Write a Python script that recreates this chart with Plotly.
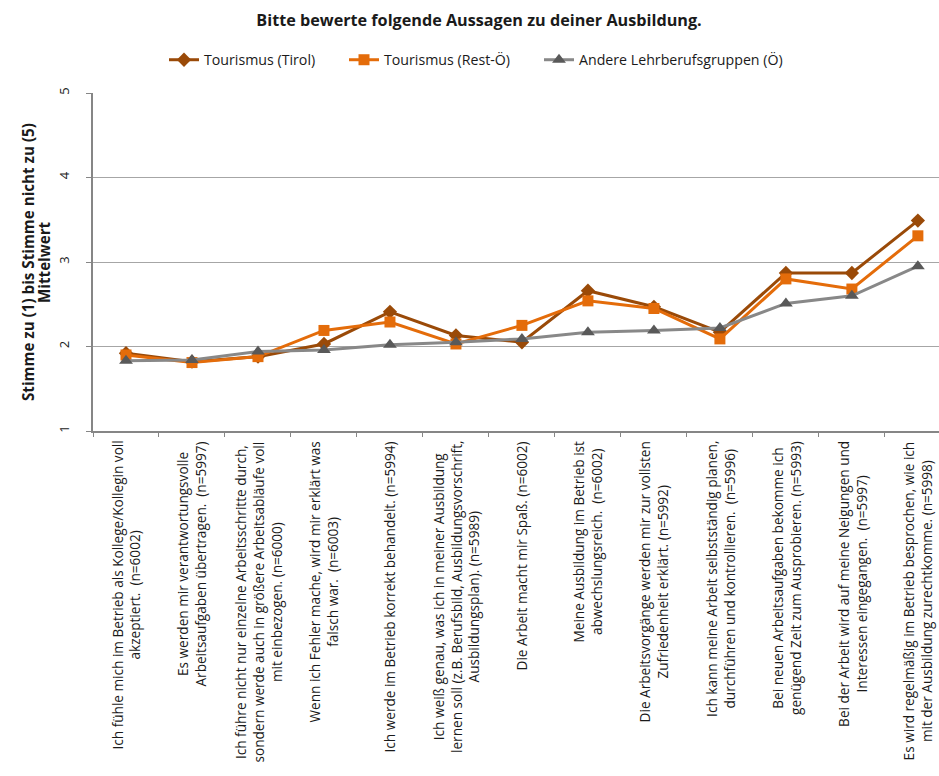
import plotly.graph_objects as go

# Statements (x categories) and their wrapped display labels
statements = [
    "Ich fühle mich im Betrieb als Kollege/Kollegin voll<br>akzeptiert.  (n=6002)",
    "Es werden mir verantwortungsvolle<br>Arbeitsaufgaben übertragen.  (n=5997)",
    "Ich führe nicht nur einzelne Arbeitsschritte durch,<br>sondern werde auch in größere Arbeitsabläufe voll<br>mit einbezogen. (n=6000)",
    "Wenn ich Fehler mache, wird mir erklärt was<br>falsch war.  (n=6003)",
    "Ich werde im Betrieb korrekt behandelt. (n=5994)",
    "Ich weiß genau, was ich in meiner Ausbildung<br>lernen soll (z.B. Berufsbild, Ausbildungsvorschrift,<br>Ausbildungsplan). (n=5989)",
    "Die Arbeit macht mir Spaß. (n=6002)",
    "Meine Ausbildung im Betrieb ist<br>abwechslungsreich.  (n=6002)",
    "Die Arbeitsvorgänge werden mir zur vollsten<br>Zufriedenheit erklärt. (n=5992)",
    "Ich kann meine Arbeit selbstständig planen,<br>durchführen und kontrollieren.  (n=5996)",
    "Bei neuen Arbeitsaufgaben bekomme ich<br>genügend Zeit zum Ausprobieren. (n=5993)",
    "Bei der Arbeit wird auf meine Neigungen und<br>Interessen eingegangen.  (n=5997)",
    "Es wird regelmäßig im Betrieb besprochen, wie ich<br>mit der Ausbildung zurechtkomme. (n=5998)",
]
categories = [f"S{i + 1}" for i in range(len(statements))]

# Mean values (1 = Stimme zu ... 5 = Stimme nicht zu)
tourismus_tirol = [1.92, 1.82, 1.88, 2.03, 2.41, 2.13, 2.05, 2.66, 2.47, 2.17, 2.87, 2.87, 3.49]
tourismus_rest = [1.90, 1.81, 1.88, 2.19, 2.29, 2.03, 2.25, 2.54, 2.45, 2.09, 2.80, 2.68, 3.31]
andere_gruppen = [1.83, 1.84, 1.94, 1.96, 2.02, 2.05, 2.09, 2.17, 2.19, 2.22, 2.51, 2.60, 2.95]

y_ticks = [1, 2, 3, 4, 5]
y_title_lines = ["Stimme zu (1) bis Stimme nicht zu (5)", "Mittelwert"]

FONT = "'Open Sans', 'Liberation Sans', sans-serif"
TEXT = "#1a1a1a"

# Plot-area geometry (pixels)
L, R, T, B = 93, 0, 93, 345
W, H = 939, 776
PW = W - L - R


def px_to_paper_x(px):
    return (px - L) / PW


series = [
    ("Tourismus (Tirol)", tourismus_tirol, "#9A4A08", "#9A4A08", "diamond", 11, "legend", 170),
    ("Tourismus (Rest-Ö)", tourismus_rest, "#E46C0A", "#E46C0A", "square", 11, "legend2", 350),
    ("Andere Lehrberufsgruppen (Ö)", andere_gruppen, "#888888", "#595959", "triangle-up", 12, "legend3", 545),
]

fig = go.Figure()
legend_layout = {}
for name, values, lcol, mcol, sym, size, leg, left_px in series:
    fig.add_trace(go.Scatter(
        x=categories, y=values, name=name, mode="lines+markers",
        line=dict(color=lcol, width=3),
        marker=dict(symbol=sym, size=size, color=mcol),
        legend=leg,
    ))
    legend_layout[leg] = dict(
        orientation="h", x=px_to_paper_x(left_px - 6), xanchor="left",
        yref="container", y=1 - 60 / H, yanchor="middle",
        font=dict(family=FONT, size=14.2, color=TEXT),
        itemwidth=30, bgcolor="rgba(0,0,0,0)",
    )

# Rotated, centred statement labels under each category
for cat, text in zip(categories, statements):
    fig.add_annotation(
        x=cat, xref="x", y=0, yref="paper", yshift=-8,
        text=text, textangle=-90, showarrow=False,
        xanchor="center", yanchor="top", align="center",
        font=dict(family=FONT, size=13.6, color=TEXT),
    )

# Two-line y-axis title, one annotation per line for tight line spacing
for line_text, x_px in zip(y_title_lines, [28, 44]):
    fig.add_annotation(
        x=px_to_paper_x(x_px), xref="paper", y=0.5, yref="paper",
        text=f"<b>{line_text}</b>",
        textangle=-90, showarrow=False, xanchor="center", yanchor="middle",
        font=dict(family=FONT, size=15.2, color=TEXT),
    )

fig.update_layout(
    width=W, height=H,
    margin=dict(l=L, r=R, t=T, b=B),
    plot_bgcolor="white", paper_bgcolor="white",
    font=dict(family=FONT, color=TEXT),
    title=dict(
        text="<b>Bitte bewerte folgende Aussagen zu deiner Ausbildung.</b>",
        x=479 / W, xanchor="center", y=1 - 20 / H, yanchor="middle",
        font=dict(family=FONT, size=16.2, color=TEXT),
    ),
    showlegend=True,
    **legend_layout,
)

fig.update_xaxes(
    type="category", categoryorder="array", categoryarray=categories,
    range=[-0.5, 12.32], showticklabels=False,
    ticks="outside", tickson="boundaries", ticklen=4, tickcolor="#868686",
    showline=True, linecolor="#868686", linewidth=2,
    showgrid=False, zeroline=False,
)
fig.update_yaxes(
    range=[1, 5], tickvals=y_ticks, ticktext=[str(v) for v in y_ticks],
    tickangle=-90, ticks="outside", ticklen=5, tickcolor="#868686",
    ticklabelstandoff=12,
    tickfont=dict(family=FONT, size=13, color=TEXT),
    showline=True, linecolor="#868686", linewidth=2,
    showgrid=True, gridcolor="#A6A6A6", gridwidth=1.3,
    zeroline=False,
)

fig.write_html("out.html")
